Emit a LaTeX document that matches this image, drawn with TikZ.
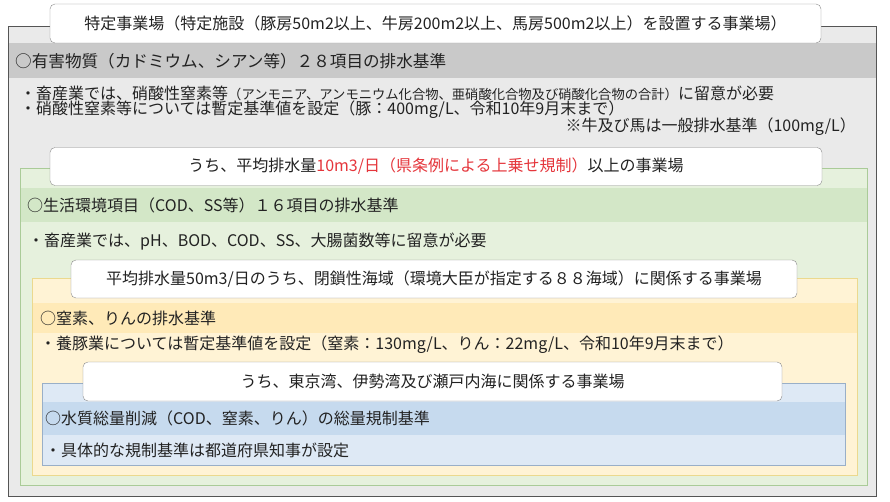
\documentclass[tikz,border=0pt]{standalone}
\usepackage{fontspec}
\setmainfont{Noto Sans CJK JP}
\definecolor{grayfill}{HTML}{EAEAEA}
\definecolor{grayband}{HTML}{C9C9C9}
\definecolor{grayline}{HTML}{555555}
\definecolor{greenfill}{HTML}{E6F1DD}
\definecolor{greenband}{HTML}{D3E7C7}
\definecolor{greenline}{HTML}{AACB98}
\definecolor{yellowfill}{HTML}{FFF3D5}
\definecolor{yellowband}{HTML}{FFEAB8}
\definecolor{yellowline}{HTML}{EBD98E}
\definecolor{bluefill}{HTML}{DEE9F5}
\definecolor{blueband}{HTML}{C6DAEE}
\definecolor{blueline}{HTML}{99AFC8}
\definecolor{titleline}{HTML}{8C8C8C}
\definecolor{txtcolor}{HTML}{222222}
\definecolor{redtxt}{HTML}{E5353B}
\begin{document}
\begin{tikzpicture}[x=1pt,y=-1pt,
        txt/.style={anchor=west,inner sep=0pt,text=txtcolor,
            font=\fontsize{16}{19}\selectfont},
        titlebox/.style={draw=titleline,fill=white,rounded corners=5pt,
            inner sep=0pt,text=txtcolor,font=\fontsize{16}{19}\selectfont}]
    \useasboundingbox (0,0) rectangle (890,501);
    \fill[white] (0,0) rectangle (890,501);
	\draw[grayline, fill=grayfill] (8,26) rectangle (876,496);
    \fill[grayband] (8.5,43) rectangle (875.5,78);
    \node[titlebox, minimum width=771pt, minimum height=39pt] (tokutei) at (435.5,23.5)
        {特定事業場（特定施設（豚房50m2以上、牛房200m2以上、馬房500m2以上）を設置する事業場）};
    \node[txt, font=\fontsize{16.6}{19}\selectfont] (yugai) at (15,61) {○有害物質（カドミウム、シアン等）２８項目の排水基準};
    \node[txt] (chikusan) at (20,93) {・畜産業では、硝酸性窒素等{\fontsize{13.3}{15}\selectfont（アンモニア、アンモニウム化合物、亜硝酸化合物及び硝酸化合物の合計）}に留意が必要};
    \node[txt] (zantei) at (20,110) {・硝酸性窒素等については暫定基準値を設定（豚：400mg/L、令和10年9月末まで）};
    \node[txt, anchor=east] (gyuba) at (856,127) {※牛及び馬は一般排水基準（100mg/L）};
	\draw[greenline, fill=greenfill] (20,168) rectangle (867,485);
    \fill[greenband] (20.5,188) rectangle (866.5,222);
    \node[titlebox, minimum width=772pt, minimum height=38pt] (uwanose) at (436,166.5)
        {うち、平均排水量\textcolor{redtxt}{10m3/日（県条例による上乗せ規制）}以上の事業場};
    \node[txt] (seikatsu) at (27,205) {○生活環境項目（COD、SS等）１６項目の排水基準};
    \node[txt] (ryuui) at (28,242) {・畜産業では、pH、BOD、COD、SS、大腸菌数等に留意が必要};
	\draw[yellowline, fill=yellowfill] (32,278) rectangle (857,475);
    \fill[yellowband] (32.5,303) rectangle (856.5,333);
    \node[titlebox, minimum width=726pt, minimum height=38pt] (heisa) at (434,279)
        {平均排水量50m3/日のうち、閉鎖性海域（環境大臣が指定する８８海域）に関係する事業場};
    \node[txt] (chisso) at (40,318) {○窒素、りんの排水基準};
    \node[txt] (yoton) at (40,345) {・養豚業については暫定基準値を設定（窒素：130mg/L、りん：22mg/L、令和10年9月末まで）};
	\draw[blueline, fill=bluefill] (42,383) rectangle (845,465);
    \fill[blueband] (42.5,402) rectangle (844.5,435);
    \node[titlebox, minimum width=699pt, minimum height=39pt] (wan) at (432.5,381.5)
        {うち、東京湾、伊勢湾及び瀬戸内海に関係する事業場};
    \node[txt] (soryo) at (45,418) {○水質総量削減（COD、窒素、りん）の総量規制基準};
    \node[txt] (chiji) at (45,450) {・具体的な規制基準は都道府県知事が設定};
\end{tikzpicture}
\end{document}
